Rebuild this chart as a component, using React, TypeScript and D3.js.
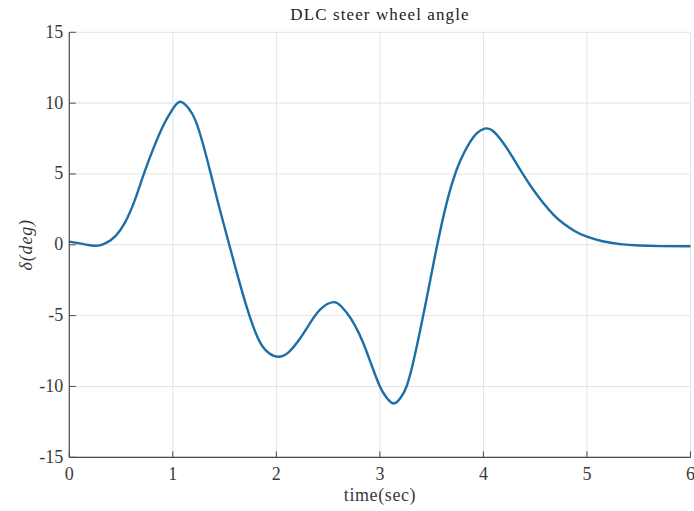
import React from "react";
import * as d3 from "d3";

// Steering wheel angle during a double lane change manoeuvre
const timeSec = [
  0, 0.1, 0.2, 0.28, 0.36, 0.45, 0.54, 0.63, 0.72, 0.82, 0.92, 1.0, 1.07, 1.15,
  1.22, 1.29, 1.36, 1.45, 1.545, 1.64, 1.74, 1.84, 1.93, 2.02, 2.12, 2.23, 2.33,
  2.43, 2.55, 2.62, 2.68, 2.76, 2.84, 2.92, 3.0, 3.06, 3.13, 3.2, 3.26, 3.32,
  3.39, 3.47, 3.54, 3.62, 3.7, 3.78, 3.87, 3.94, 4.01, 4.09, 4.19, 4.28, 4.38,
  4.48, 4.58, 4.68, 4.77, 4.88, 5.0, 5.15, 5.32, 5.5, 5.7, 6.0,
];
const steerDeg = [
  0.22, 0.1, -0.03, -0.06, 0.15, 0.65, 1.6, 3.1, 5.0, 6.95, 8.6, 9.6, 10.1, 9.65,
  8.75, 7.15, 5.2, 2.6, 0, -2.55, -5.0, -6.85, -7.65, -7.9, -7.57, -6.6, -5.47,
  -4.52, -4.05, -4.3, -4.8, -5.7, -6.95, -8.5, -10.0, -10.75, -11.2, -10.8, -9.95,
  -8.35, -6.0, -3.1, -0.5, 2.2, 4.4, 6.0, 7.25, 7.9, 8.2, 8.05, 7.2, 6.2, 5.0, 3.9,
  2.93, 2.1, 1.52, 0.98, 0.57, 0.25, 0.05, -0.05, -0.09, -0.1,
];
const xTicks = [0, 1, 2, 3, 4, 5, 6];
const yTicks = [-15, -10, -5, 0, 5, 10, 15];

const W = 694;
const H = 511;
const left = 69.3;
const right = 690.5;
const top = 32.3;
const bottom = 457.3;
const serif = "'Liberation Serif', 'Times New Roman', serif";

export default function App() {
  const x = d3.scaleLinear().domain([0, 6]).range([left, right]);
  const y = d3.scaleLinear().domain([-15, 15]).range([bottom, top]);
  const pts = timeSec.map((t, i) => [t, steerDeg[i]] as [number, number]);
  const line = d3
    .line<[number, number]>()
    .x((d) => x(d[0]))
    .y((d) => y(d[1]))
    .curve(d3.curveNatural);

  const axisColor = "#4a4a4a";
  const gridColor = "#e3e3e3";
  const labelColor = "#3a3a3a";

  return (
    <svg
      width={W}
      height={H}
      style={{ position: "absolute", left: 0, top: 0, background: "#fff" }}
    >
      {/* grid */}
      {xTicks.map((t) => (
        <line
          key={"gx" + t}
          x1={x(t)}
          x2={x(t)}
          y1={top}
          y2={bottom}
          stroke={gridColor}
          strokeWidth={1}
        />
      ))}
      {yTicks.map((v) => (
        <line
          key={"gy" + v}
          x1={left}
          x2={right}
          y1={y(v)}
          y2={y(v)}
          stroke={gridColor}
          strokeWidth={1}
        />
      ))}

      {/* data */}
      <path
        d={line(pts) || ""}
        fill="none"
        stroke="#1b6fa6"
        strokeWidth={2.4}
        strokeLinejoin="round"
      />

      {/* axes */}
      <line x1={left} x2={left} y1={top} y2={bottom} stroke={axisColor} strokeWidth={1.2} />
      <line x1={left} x2={right} y1={bottom} y2={bottom} stroke={axisColor} strokeWidth={1.2} />
      {yTicks.map((v) => (
        <g key={"ty" + v}>
          <line x1={left} x2={left + 6.5} y1={y(v)} y2={y(v)} stroke={axisColor} strokeWidth={1} />
          <text
            x={left - 6}
            y={y(v) + 5.5}
            textAnchor="end"
            fontFamily={serif}
            fontSize={18}
            fill={labelColor}
          >
            {v}
          </text>
        </g>
      ))}
      {xTicks.map((t) => (
        <g key={"tx" + t}>
          <line x1={x(t)} x2={x(t)} y1={bottom} y2={bottom - 6} stroke={axisColor} strokeWidth={1} />
          <text
            x={x(t)}
            y={480}
            textAnchor="middle"
            fontFamily={serif}
            fontSize={18}
            fill={labelColor}
          >
            {t}
          </text>
        </g>
      ))}

      {/* title and labels */}
      <text
        x={380}
        y={20}
        textAnchor="middle"
        fontFamily={serif}
        fontSize={17}
        letterSpacing={1.1}
        fill="#222"
      >
        DLC steer wheel angle
      </text>
      <text
        x={380}
        y={501}
        textAnchor="middle"
        fontFamily={serif}
        fontSize={18}
        letterSpacing={0.6}
        fill={labelColor}
      >
        time(sec)
      </text>
      <text
        transform={`translate(32,${y(0)}) rotate(-90)`}
        textAnchor="middle"
        fontFamily={serif}
        fontStyle="italic"
        fontSize={18}
        letterSpacing={0.8}
        fill={labelColor}
      >
        δ(deg)
      </text>
    </svg>
  );
}
